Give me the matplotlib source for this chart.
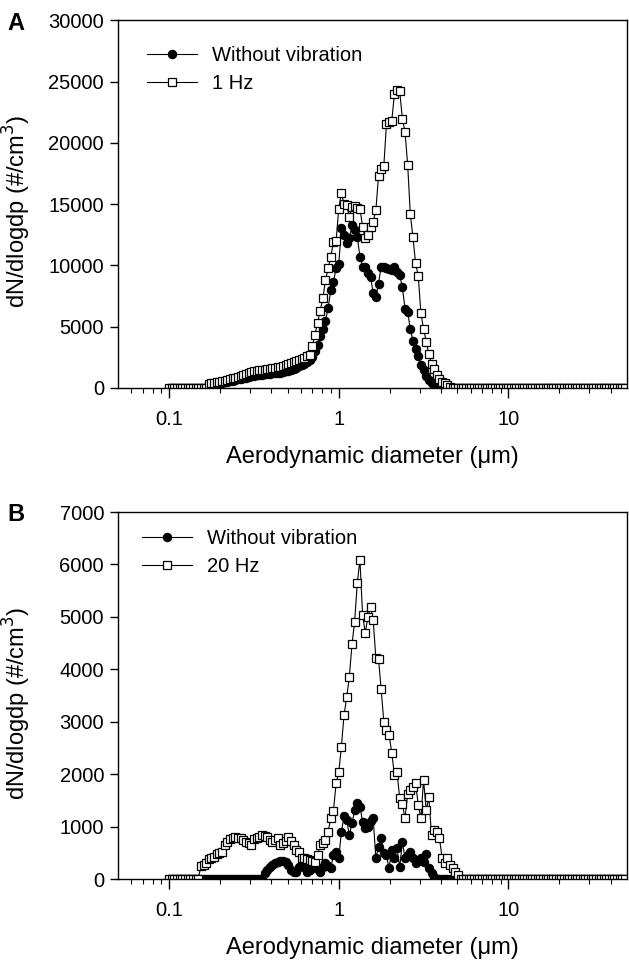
import numpy as np
import matplotlib
matplotlib.use("Agg")
import matplotlib.pyplot as plt
from matplotlib.ticker import FixedLocator, NullFormatter, FixedFormatter

plt.rcParams['font.family'] = ['Liberation Sans', 'DejaVu Sans']

# sizer channels: 64 per decade starting at 0.1 um, 173 channels (up to ~50 um)
d_first = 0.1
per_decade = 64
n_channels = 173
diameter = d_first * 10 ** (np.arange(n_channels) / per_decade)

# panel A
a_without = ([0] * 15 +
             [250, 300, 320, 350, 380, 420, 460, 500, 550, 600, 650, 700, 750, 800,
              850, 900, 940, 980, 1020, 1050, 1080, 1100, 1120, 1150, 1180, 1200,
              1230, 1250, 1300, 1350, 1420, 1500, 1580, 1650, 1750, 1850, 1980, 2100,
              2300, 2500] +
             [3000, 3500, 4200, 4800, 5500, 6500, 8000, 8660, 9750, 10080, 13010,
              12470, 11790, 12200, 13280, 12880, 12300, 10700, 9900, 9900, 9400, 9070,
              7720, 7450, 8500, 9890, 9900, 9750, 9700, 9620, 9890, 9500, 9210, 8200,
              6480, 6220, 4780, 3860, 3150, 2610, 1870, 1500, 1000, 650, 400, 240, 100] +
             [0] * 71)
a_1hz = ([0] * 15 +
         [350, 400, 430, 480, 520, 560, 600, 650, 700, 770, 830, 900, 980, 1050, 1120,
          1200, 1280, 1350, 1400, 1450, 1480, 1500, 1520, 1550, 1600, 1650, 1700, 1720,
          1780, 1850, 1920, 2000, 2100, 2200, 2280, 2350, 2450, 2600, 2700] +
         [3400, 4300, 5300, 6300, 7300, 8800, 9750, 10700, 11920, 11950, 14640, 15920,
          15000, 14900, 13960, 14770, 14830, 14700, 14640, 13150, 12200, 12470, 13150,
          13550, 14500, 17280, 17900, 18100, 21520, 21700, 21790, 24000, 24300, 24200,
          21980, 20900, 18220, 14180, 12280, 10160, 9130, 6080, 4810, 3770, 2770, 1960,
          1520, 1060, 700, 520, 380, 240, 100] +
         [0] * 66)

# panel B
b_without = ([0] * 36 +
             [108, 172, 235, 270, 299, 330, 343, 340, 330, 267, 180, 140, 140, 235, 299,
              220, 140, 180, 204, 280, 200, 140, 220, 299, 250, 204, 458, 520, 395, 902,
              1202, 1125, 839, 1062, 1316, 1444, 1379, 1093, 967, 998, 1100, 1158, 395,
              616, 776, 502, 450, 204, 553, 395, 585, 223, 711, 395, 450, 520, 395, 299,
              350, 395, 330, 477, 204, 108, 40] +
             [0] * 72)
b_20hz = ([0] * 12 +
          [250, 270, 300, 380, 400, 420, 480, 500, 520, 650, 710, 760, 790, 810, 790,
           775, 740, 710, 680, 650, 757, 790, 810, 840, 830, 810, 750, 710, 750, 775,
           650, 680, 720, 795, 720, 650, 560, 520, 395, 395, 380, 360, 340, 330, 458,
           650, 680, 750, 902, 1158, 1297, 1825, 2035, 2523, 3128, 3465, 3858, 4476,
           4908, 5652, 6084, 5035, 4698, 4991, 5182, 4940, 4209, 4196, 3618, 3000, 2842,
           2746, 2409, 1984, 2035, 1539, 1430, 1158, 1621, 1697, 1750, 1825, 1411, 1158,
           1888, 1316, 1558, 839, 935, 900, 776, 395, 299, 395, 267, 204, 140, 80] +
          [0] * 63)

panels = [
    ('A', a_without, a_1hz, '1 Hz', 30000, 5000, (0.057, 0.929)),
    ('B', b_without, b_20hz, '20 Hz', 7000, 1000, (0.047, 0.954)),
]

fig = plt.figure(figsize=(6.29, 9.65), dpi=100)
boxes = [[0.1876, 0.598, 0.8092, 0.381], [0.1876, 0.0891, 0.8092, 0.3803]]

major = [0.1, 1, 10]
minor = [0.06, 0.07, 0.08, 0.09] + [k * 0.1 for k in range(2, 10)] + \
        list(range(2, 10)) + [20, 30, 40]

for (letter, without, vib, vib_label, ymax, ystep, leg_xy), box in zip(panels, boxes):
    ax = fig.add_axes(box)
    ax.plot(diameter, without, '-', color='black', lw=0.8, marker='o', ms=6,
            mfc='black', mec='black', mew=0.8, label='Without vibration')
    ax.plot(diameter, vib, '-', color='black', lw=0.8, marker='s', ms=5.5,
            mfc='white', mec='black', mew=0.9, label=vib_label)
    ax.set_xscale('log')
    ax.set_xlim(0.05, 50)
    ax.set_ylim(0, ymax)
    ax.xaxis.set_major_locator(FixedLocator(major))
    ax.xaxis.set_major_formatter(FixedFormatter(['0.1', '1', '10']))
    ax.xaxis.set_minor_locator(FixedLocator(minor))
    ax.xaxis.set_minor_formatter(NullFormatter())
    ax.set_yticks(np.arange(0, ymax + 1, ystep))
    ax.tick_params(axis='both', which='major', labelsize=14.5, direction='out',
                   length=6, width=1, pad=4)
    ax.tick_params(axis='x', which='major', length=7, pad=9)
    ax.tick_params(axis='x', which='minor', length=3.5, width=0.8)
    ax.tick_params(top=False, right=False, which='both')
    for s in ax.spines.values():
        s.set_linewidth(1.0)
    ax.set_xlabel('Aerodynamic diameter (\u03bcm)', fontsize=17, labelpad=12)
    ax.set_ylabel('dN/dlogdp (#/cm$^3$)', fontsize=17)
    ax.yaxis.set_label_coords(-0.167, 0.48)
    ax.legend(loc='upper left', bbox_to_anchor=leg_xy, frameon=False, fontsize=14.5,
              handlelength=2.5, handletextpad=0.75, borderpad=0, borderaxespad=0,
              labelspacing=0.45)
    fig.text(0.012, box[1] + box[3] - 0.003, letter, fontsize=17, fontweight='bold',
             va='center', ha='left')

fig.savefig('out.png', dpi=100)
